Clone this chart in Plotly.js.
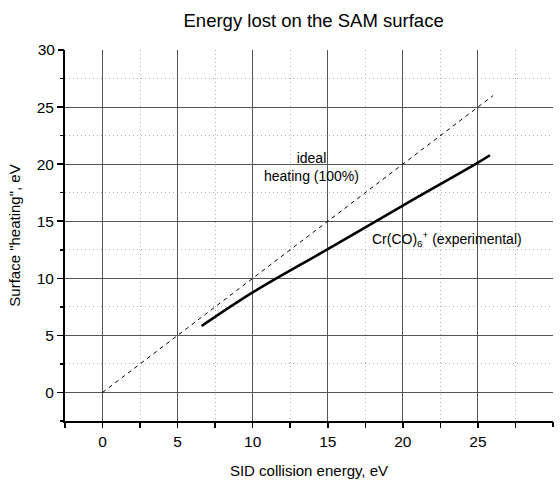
<!DOCTYPE html>
<html>
<head>
<meta charset="utf-8">
<script src="https://cdn.plot.ly/plotly-3.0.1.min.js"></script>
<style>html,body{margin:0;padding:0;background:#fff;}#chart{width:560px;height:482px;}</style>
</head>
<body>
<div id="chart"></div>
<script>
const idealX = [0, 26];
const idealY = [0, 26];
const expX = [6.6, 10, 15, 20, 25, 25.8];
const expY = [5.82, 8.76, 12.55, 16.37, 20.13, 20.78];
const gridVals = [0, 5, 10, 15, 20, 25];
const edgeVals = [30];
const minorVals = [-2.5, 2.5, 7.5, 12.5, 17.5, 22.5, 27.5];
const titleText = 'Energy lost on the SAM surface';
const xTitle = 'SID collision energy, eV';
const yTitle = 'Surface "heating", eV';
const idealLabel = 'ideal<br>heating (100%)';
const expLabel = 'Cr(CO)<sub>6</sub><sup>+</sup> (experimental)';

const font = 'Liberation Sans, Arial, Helvetica, sans-serif';
const tickFont = {family: font, size: 15.5, color: '#000'};

const traces = [
  {x: idealX, y: idealY, mode: 'lines', line: {color: '#000', width: 1, dash: '4px,4px'}, hoverinfo: 'skip'},
  {x: expX, y: expY, mode: 'lines', line: {color: '#000', width: 2.6, shape: 'spline', smoothing: 1}, hoverinfo: 'skip'},
  {x: [], y: [], xaxis: 'x2', yaxis: 'y2', mode: 'lines', hoverinfo: 'skip'}
];

function mainAxis(len, minorLen) {
  return {
    range: [-2.5, 30],
    tickvals: gridVals,
    showline: true, linecolor: '#000', linewidth: 2,
    ticks: 'outside', ticklen: len, tickwidth: 1.5, tickcolor: '#000',
    showgrid: true, gridcolor: '#555', gridwidth: 1,
    zeroline: false,
    tickfont: tickFont,
    minor: {tickvals: minorVals, ticks: 'outside', ticklen: minorLen, tickwidth: 1.5, tickcolor: '#000', showgrid: true, gridcolor: '#b0b0b0', griddash: '1px,3px', gridwidth: 1},
    fixedrange: true
  };
}
function edgeAxis(len) {
  return {
    range: [-2.5, 30],
    tickvals: edgeVals,
    showline: false, showgrid: false, zeroline: false,
    ticks: 'outside', ticklen: len, tickwidth: 1.5, tickcolor: '#000',
    tickfont: tickFont,
    fixedrange: true
  };
}

const layout = {
  width: 560, height: 482,
  margin: {l: 65, r: 7, t: 50, b: 61},
  paper_bgcolor: '#fff', plot_bgcolor: '#fff',
  showlegend: false,
  font: {family: font, color: '#000'},
  title: {text: titleText, font: {family: font, size: 18.5, color: '#000'}, x: 0.56, xanchor: 'center', y: 0.958, yanchor: 'middle'},
  xaxis: Object.assign(mainAxis(5, 5), {
    title: {text: xTitle, font: {family: font, size: 15, color: '#000'}, standoff: 17}
  }),
  yaxis: Object.assign(mainAxis(6, 3), {
    title: {text: yTitle, font: {family: font, size: 15, color: '#000'}, standoff: 12}
  }),
  xaxis2: Object.assign(edgeAxis(5), {overlaying: 'x', anchor: 'y2', side: 'bottom'}),
  yaxis2: Object.assign(edgeAxis(6), {overlaying: 'y', anchor: 'x2', side: 'left'}),
  annotations: [
    {x: 13.93, y: 19.75, xref: 'x', yref: 'y', text: idealLabel, showarrow: false, align: 'center', xanchor: 'center', yanchor: 'middle', font: {family: font, size: 14, color: '#000'}},
    {x: 17.8, y: 13.45, xref: 'x', yref: 'y', text: expLabel, showarrow: false, align: 'left', xanchor: 'left', yanchor: 'middle', font: {family: font, size: 14, color: '#000'}}
  ]
};

Plotly.newPlot('chart', traces, layout, {staticPlot: true, displayModeBar: false});
</script>
</body>
</html>
